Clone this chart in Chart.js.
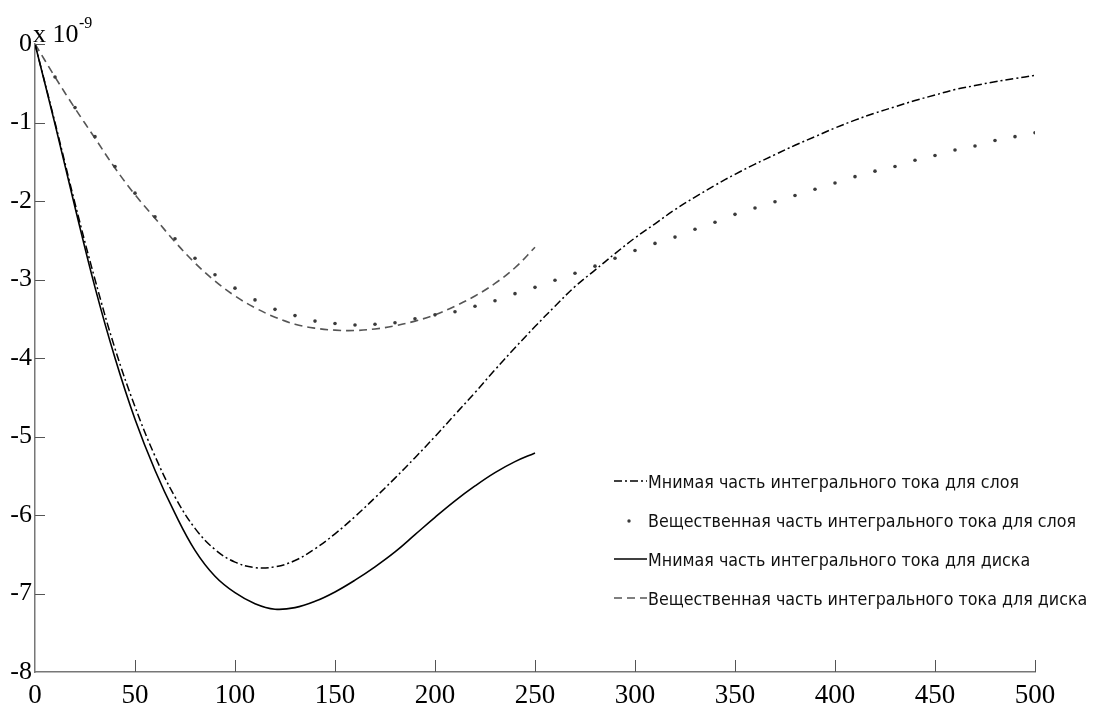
<!DOCTYPE html>
<html>
<head>
<meta charset="utf-8">
<script src="https://cdn.jsdelivr.net/npm/chart.js@4.4.1/dist/chart.umd.min.js"></script>
<style>
  body { margin: 0; background: #fff; }
  #wrap { width: 1093px; height: 705px; }
</style>
</head>
<body>
<div id="wrap"><canvas id="currentChart"></canvas></div>
<script>
// x values (step 10) and the 4 curves, in units of 1e-9
const xLayer = [0,10,20,30,40,50,60,70,80,90,100,110,120,130,140,150,160,170,180,190,200,
  210,220,230,240,250,260,270,280,290,300,310,320,330,340,350,360,370,380,390,400,
  410,420,430,440,450,460,470,480,490,500];
const xDisk = xLayer.slice(0, 26);

const imagLayer = [0,-1.0,-2.03,-3.0,-3.88,-4.62,-5.25,-5.77,-6.17,-6.44,-6.6,-6.67,-6.66,-6.58,-6.43,-6.24,
  -6.02,-5.78,-5.53,-5.27,-5.0,-4.72,-4.44,-4.15,-3.87,-3.6,-3.34,-3.09,-2.88,-2.67,-2.47,
  -2.29,-2.11,-1.95,-1.8,-1.66,-1.53,-1.41,-1.29,-1.18,-1.07,-0.97,-0.88,-0.8,-0.72,
  -0.65,-0.58,-0.53,-0.48,-0.44,-0.4];
const realLayer = [0,-0.42,-0.81,-1.18,-1.56,-1.9,-2.2,-2.48,-2.73,-2.94,-3.11,-3.26,-3.38,-3.46,-3.53,-3.56,
  -3.58,-3.57,-3.55,-3.5,-3.45,-3.41,-3.34,-3.27,-3.18,-3.1,-3.01,-2.92,-2.83,-2.73,-2.63,
  -2.54,-2.46,-2.36,-2.27,-2.17,-2.09,-2.01,-1.93,-1.85,-1.77,-1.69,-1.62,-1.56,-1.48,
  -1.42,-1.35,-1.3,-1.23,-1.18,-1.13];
const imagDisk = [0,-1.02,-2.08,-3.1,-4.0,-4.78,-5.43,-5.98,-6.45,-6.78,-6.99,-7.13,-7.2,-7.18,-7.1,-6.98,
  -6.83,-6.66,-6.47,-6.25,-6.03,-5.82,-5.63,-5.46,-5.32,-5.21];
const realDisk = [0,-0.42,-0.82,-1.2,-1.58,-1.92,-2.22,-2.52,-2.79,-3.02,-3.21,-3.36,-3.48,-3.57,-3.62,-3.645,
  -3.65,-3.63,-3.59,-3.53,-3.45,-3.34,-3.21,-3.05,-2.85,-2.59];

const labels = [
  "Мнимая часть интегрального тока для слоя",
  "Вещественная часть интегрального тока для слоя",
  "Мнимая часть интегрального тока для диска",
  "Вещественная часть интегрального тока для диска"
];

const toPts = (xs, ys) => xs.map((x, i) => ({ x: x, y: ys[i] }));

// ticks pointing into the plot, plus the x 10^-9 note and the legend
const extras = {
  id: "extras",
  afterDatasetsDraw(chart) {
    const ctx = chart.ctx;
    const a = chart.chartArea;
    const xs = chart.scales.x, ys = chart.scales.y;
    ctx.save();
    ctx.strokeStyle = "#555";
    ctx.lineWidth = 1;
    ys.ticks.forEach(t => {
      if (t.value === ys.min) return;
      const y = Math.round(ys.getPixelForValue(t.value)) + 0.5;
      ctx.beginPath(); ctx.moveTo(a.left, y); ctx.lineTo(a.left + 10, y); ctx.stroke();
    });
    xs.ticks.forEach(t => {
      if (t.value === xs.min) return;
      const x = Math.round(xs.getPixelForValue(t.value)) + 0.5;
      ctx.beginPath(); ctx.moveTo(x, a.bottom); ctx.lineTo(x, a.bottom - 12); ctx.stroke();
    });

    // exponent note
    ctx.fillStyle = "#000";
    ctx.textBaseline = "alphabetic";
    ctx.font = '26px "Liberation Serif"';
    ctx.fillText("x 10", 33, 42);
    ctx.font = '16px "Liberation Serif"';
    ctx.fillText("-9", 79, 28);

    // legend
    const rows = [483, 522, 561, 600];
    ctx.font = '18px "DejaVu Sans"';
    const sx = 371 / ctx.measureText(labels[0]).width;
    chart.data.datasets.forEach((ds, i) => {
      const y = rows[i];
      ctx.strokeStyle = ds.borderColor;
      ctx.lineWidth = ds.borderWidth;
      if (ds.showLine === false) {
        ctx.fillStyle = ds.pointBackgroundColor;
        ctx.beginPath(); ctx.arc(629, y - 1, 1.7, 0, Math.PI * 2); ctx.fill();
      } else {
        ctx.setLineDash(ds.borderDash || []);
        ctx.beginPath(); ctx.moveTo(614, y - 2); ctx.lineTo(647, y - 2); ctx.stroke();
        ctx.setLineDash([]);
      }
      ctx.fillStyle = "#111";
      ctx.textBaseline = "middle";
      ctx.save();
      ctx.translate(648, y);
      ctx.scale(sx, 1);
      ctx.fillText(ds.label, 0, 0);
      ctx.restore();
    });
    ctx.restore();
  }
};

new Chart(document.getElementById("currentChart"), {
  type: "line",
  data: {
    datasets: [
      {
        label: labels[0],
        data: toPts(xLayer, imagLayer),
        borderColor: "#000",
        borderWidth: 1.5,
        borderDash: [8, 3, 2, 3],
        pointRadius: 0,
        tension: 0.4
      },
      {
        label: labels[1],
        data: toPts(xLayer, realLayer),
        showLine: false,
        pointRadius: 1.8,
        pointBackgroundColor: "#3a3a3a",
        pointBorderWidth: 0,
        borderColor: "#3a3a3a"
      },
      {
        label: labels[2],
        data: toPts(xDisk, imagDisk),
        borderColor: "#000",
        borderWidth: 1.6,
        pointRadius: 0,
        tension: 0.4
      },
      {
        label: labels[3],
        data: toPts(xDisk, realDisk),
        borderColor: "#555",
        borderWidth: 1.6,
        borderDash: [8, 5],
        pointRadius: 0,
        tension: 0.4
      }
    ]
  },
  options: {
    responsive: true,
    maintainAspectRatio: false,
    animation: false,
    layout: { padding: { top: 44, right: 58, left: 0, bottom: 0 } },
    plugins: { legend: { display: false }, tooltip: { enabled: false } },
    scales: {
      x: {
        type: "linear",
        min: 0, max: 500,
        ticks: { stepSize: 50, color: "#000", padding: 8, font: { family: "Liberation Serif", size: 27 } },
        grid: { drawOnChartArea: false, drawTicks: false },
        border: { color: "#777", width: 1.5 },
        afterFit: s => { s.height = 33; }
      },
      y: {
        min: -8, max: 0,
        ticks: { stepSize: 1, color: "#000", padding: 3, font: { family: "Liberation Serif", size: 26 } },
        grid: { drawOnChartArea: false, drawTicks: false },
        border: { color: "#777", width: 1.5 },
        afterFit: s => { s.width = 35; }
      }
    }
  },
  plugins: [extras]
});
</script>
</body>
</html>
